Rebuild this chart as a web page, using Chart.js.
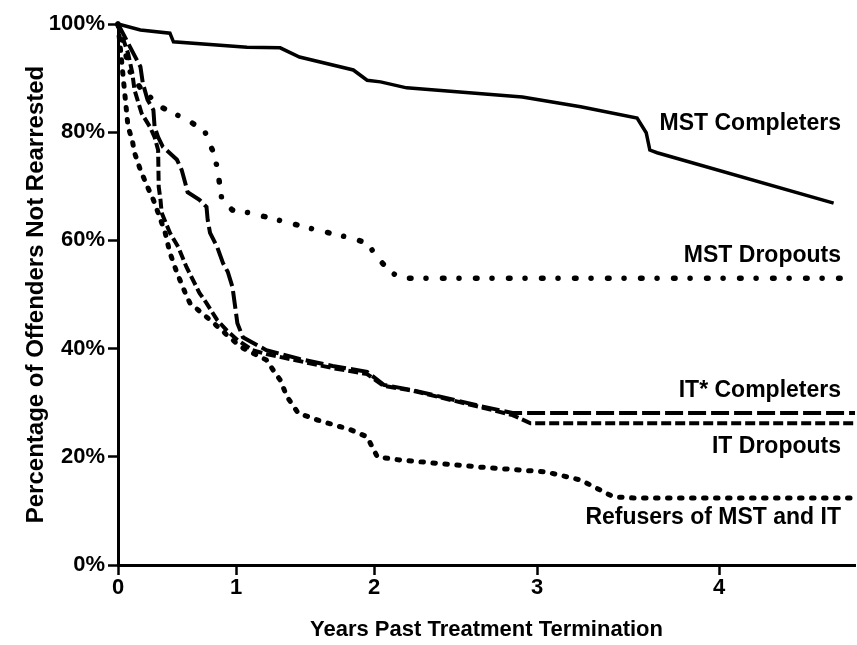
<!DOCTYPE html>
<html>
<head>
<meta charset="utf-8">
<title>Offenders not rearrested</title>
<script src="https://cdn.jsdelivr.net/npm/chart.js@4.4.1/dist/chart.umd.min.js"></script>
<style>
  html, body { margin: 0; padding: 0; background: #fff; }
  canvas { display: block; }
</style>
</head>
<body>
<canvas id="survival" width="857" height="645"></canvas>
<script>
// tick values
const yearTicks = [0, 1, 2, 3, 4];
const pctTicks = [0, 20, 40, 60, 80, 100];

const groupNames = ['MST Completers', 'MST Dropouts', 'IT* Completers', 'IT Dropouts', 'Refusers of MST and IT'];

// values (years, % not rearrested)
const mstCompYears = [0, 0.19, 0.44, 0.47, 1.08, 1.32, 1.46, 1.85, 1.95, 2.04, 2.20, 2.91, 3.24, 3.55, 3.60, 3.62, 3.66, 4.59];
const mstCompPct   = [100, 98.9, 98.3, 96.7, 95.7, 95.6, 93.9, 91.5, 89.6, 89.3, 88.2, 86.5, 84.7, 82.6, 79.9, 76.7, 76.2, 66.9];

const mstDropYears = [0, 0.11, 0.19, 0.36, 0.50, 0.63, 0.74, 0.80, 0.84, 0.86, 0.88, 0.97, 1.10, 1.36, 1.59, 1.84, 1.95, 2.02, 2.09, 2.16, 4.7];
const mstDropPct   = [100, 90.6, 88.2, 84.7, 83.2, 81.7, 79.9, 76.7, 73.6, 70.6, 67.5, 65.6, 65.1, 63.4, 61.9, 60.4, 59.5, 56.9, 54.5, 53.0, 53.0];

const itCompYears = [0, 0.19, 0.21, 0.25, 0.30, 0.31, 0.34, 0.38, 0.50, 0.54, 0.57, 0.59, 0.69, 0.75, 0.76, 0.78, 0.84, 0.89, 0.93, 0.97, 1.01, 1.05, 1.22, 1.46, 1.70, 1.95, 2.06, 2.24, 2.65, 2.85, 4.7];
const itCompPct   = [100, 92.1, 89.1, 86.0, 84.1, 81.0, 79.1, 77.3, 74.9, 73.0, 70.6, 68.9, 67.5, 66.2, 63.8, 61.4, 58.8, 55.8, 54.2, 51.4, 44.7, 42.1, 39.7, 38.1, 36.8, 35.7, 33.3, 32.3, 29.4, 28.1, 28.1];

const itDropYears = [0, 0.085, 0.12, 0.14, 0.20, 0.27, 0.31, 0.34, 0.345, 0.36, 0.37, 0.44, 0.51, 0.58, 0.69, 0.75, 0.84, 0.92, 1.01, 1.12, 1.22, 1.46, 1.70, 1.95, 2.06, 2.24, 2.65, 2.85, 2.96, 4.7];
const itDropPct   = [100, 94.6, 91.1, 87.8, 83.5, 81.0, 79.1, 76.7, 69.9, 67.5, 65.1, 61.4, 58.8, 55.1, 50.3, 48.4, 45.3, 43.4, 41.6, 39.7, 39.0, 37.7, 36.4, 35.3, 33.1, 32.2, 29.2, 27.7, 26.2, 26.2];

const refusYears = [0, 0.085, 0.12, 0.14, 0.19, 0.25, 0.30, 0.34, 0.40, 0.44, 0.50, 0.57, 0.61, 0.78, 0.97, 1.05, 1.15, 1.22, 1.27, 1.32, 1.37, 1.45, 1.59, 1.83, 1.95, 2.02, 2.16, 2.65, 3.05, 3.24, 3.42, 3.53, 4.7];
const refusPct   = [100, 81.0, 78.6, 76.2, 73.0, 69.9, 67.5, 65.1, 61.4, 57.7, 54.0, 50.3, 48.4, 45.3, 41.6, 40.1, 38.8, 37.9, 36.0, 34.2, 31.1, 28.1, 26.8, 25.0, 23.7, 20.0, 19.4, 18.1, 17.2, 15.7, 12.6, 12.4, 12.4];

function pts(xs, ys) {
    return xs.map((x, i) => ({ x: x, y: ys[i] }));
}

// the printed year axis is not evenly spaced, so the x scale follows it
const axisWarp = {
    years: [0, 1, 2, 3, 4, 4.7],
    at: [0, 118, 256, 419, 601, 737]
};

class WarpedScale extends Chart.LinearScale {
    toDecimal(v) {
        const ys = axisWarp.years, at = axisWarp.at;
        let i = 0;
        while (i < ys.length - 2 && v > ys[i + 1]) i++;
        const t = (v - ys[i]) / (ys[i + 1] - ys[i]);
        return (at[i] + t * (at[i + 1] - at[i])) / at[at.length - 1];
    }
    getPixelForValue(value) {
        if (value === null || isNaN(value)) return NaN;
        return this.getPixelForDecimal(this.toDecimal(value));
    }
    getValueForPixel(pixel) {
        const ys = axisWarp.years, at = axisWarp.at;
        const d = this.getDecimalForPixel(pixel) * at[at.length - 1];
        let i = 0;
        while (i < at.length - 2 && d > at[i + 1]) i++;
        return ys[i] + (d - at[i]) / (at[i + 1] - at[i]) * (ys[i + 1] - ys[i]);
    }
}
WarpedScale.id = 'warped';
WarpedScale.defaults = {};
Chart.register(WarpedScale);

const FONT = '"Liberation Sans", Arial, Helvetica, sans-serif';

// curve names written at the right end
const curveLabelPlugin = {
    id: 'curveLabels',
    afterDatasetsDraw(chart, args, opts) {
        const ctx = chart.ctx;
        const xs = chart.scales.x, ys = chart.scales.y;
        ctx.save();
        ctx.fillStyle = '#000';
        ctx.font = 'bold 23px ' + FONT;
        ctx.textAlign = 'right';
        ctx.textBaseline = 'middle';
        groupNames.forEach((name, i) => {
            ctx.fillText(name, xs.right - opts.inset, ys.getPixelForValue(opts.at[i]));
        });
        ctx.restore();
    }
};

const lineBase = {
    borderColor: '#000',
    pointRadius: 0,
    tension: 0,
    fill: false,
    clip: false,
};

const data = {
    datasets: [
        Object.assign({}, lineBase, {
            label: groupNames[0],
            data: pts(mstCompYears, mstCompPct),
            borderWidth: 3.5,
        }),
        Object.assign({}, lineBase, {
            label: groupNames[1],
            data: pts(mstDropYears, mstDropPct),
            borderWidth: 5.5,
            borderCapStyle: 'round',
            borderDash: [1.5, 15, 0.01, 16.5],
        }),
        Object.assign({}, lineBase, {
            label: groupNames[2],
            data: pts(itCompYears, itCompPct),
            borderWidth: 4,
            borderDash: [18, 5],
        }),
        Object.assign({}, lineBase, {
            label: groupNames[3],
            data: pts(itDropYears, itDropPct),
            borderWidth: 4,
            borderDash: [10, 4],
        }),
        Object.assign({}, lineBase, {
            label: groupNames[4],
            data: pts(refusYears, refusPct),
            borderWidth: 5,
            borderCapStyle: 'round',
            borderDash: [2.5, 9.5],
        }),
    ]
};

const config = {
    type: 'line',
    data: data,
    options: {
        responsive: false,
        animation: false,
        events: [],
        layout: {
            padding: { top: 24, right: 2, left: 0, bottom: 0 }
        },
        plugins: {
            legend: { display: false },
            tooltip: { enabled: false },
            curveLabels: {
                inset: 14,
                at: [81.5, 57.1, 32.2, 21.8, 8.7]
            }
        },
        scales: {
            x: {
                type: 'warped',
                min: 0,
                max: 4.7,
                afterBuildTicks: s => { s.ticks = yearTicks.map(v => ({ value: v })); },
                afterFit: s => { s.height = 80; },
                border: { color: '#000', width: 3 },
                grid: {
                    drawOnChartArea: false,
                    drawTicks: true,
                    tickLength: 10,
                    tickColor: '#000',
                    tickWidth: 2.5,
                },
                ticks: {
                    color: '#000',
                    padding: 0,
                    maxRotation: 0,
                    font: { family: FONT, size: 22, weight: 'bold' },
                    callback: v => String(v),
                },
                title: {
                    display: true,
                    text: 'Years Past Treatment Termination',
                    color: '#000',
                    padding: { top: 4, bottom: 2 },
                    font: { family: FONT, size: 22, weight: 'bold' },
                },
            },
            y: {
                min: 0,
                max: 100,
                afterBuildTicks: s => { s.ticks = pctTicks.map(v => ({ value: v })); },
                afterFit: s => { s.width = 118; },
                border: { color: '#000', width: 3 },
                grid: {
                    drawOnChartArea: false,
                    drawTicks: true,
                    tickLength: 10,
                    tickColor: '#000',
                    tickWidth: 2.5,
                },
                ticks: {
                    color: '#000',
                    padding: 3,
                    font: { family: FONT, size: 22, weight: 'bold' },
                    callback: v => v + '%',
                },
                title: {
                    display: true,
                    text: 'Percentage of Offenders Not Rearrested',
                    color: '#000',
                    padding: { top: 22, bottom: 0 },
                    font: { family: FONT, size: 24, weight: 'bold' },
                },
            },
        },
    },
    plugins: [curveLabelPlugin]
};

var ctx = document.getElementById('survival').getContext('2d');
var survivalChart = new Chart(ctx, config);
</script>
</body>
</html>
